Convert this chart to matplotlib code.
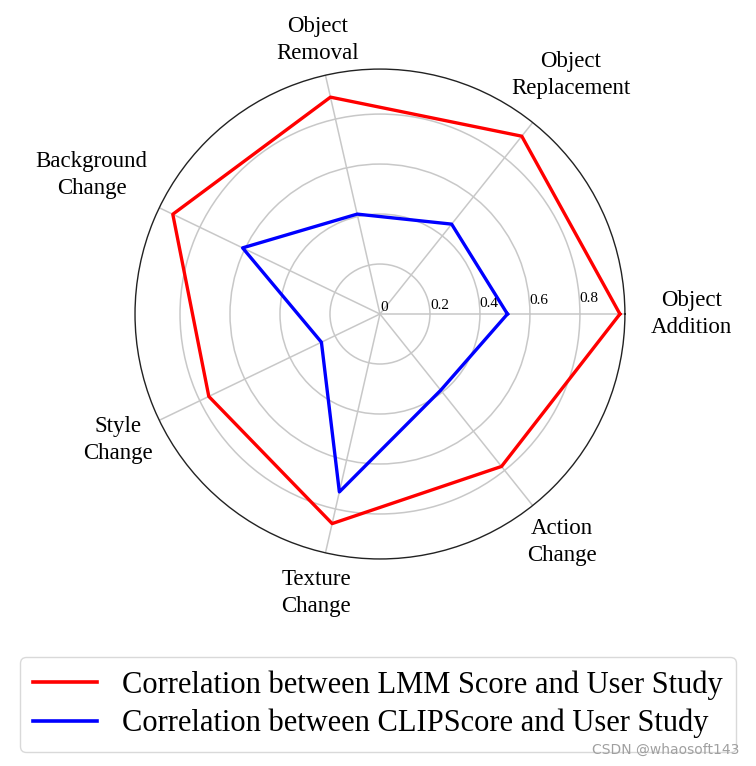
import numpy as np
import matplotlib
matplotlib.use('Agg')
import matplotlib.pyplot as plt

# ---------------- data ----------------
categories = ["Object\nAddition", "Object\nReplacement", "Object\nRemoval",
              "Background\nChange", "Style\nChange", "Texture\nChange", "Action\nChange"]
lmm_scores = [0.96, 0.91, 0.89, 0.92, 0.76, 0.86, 0.78]
clip_scores = [0.51, 0.46, 0.41, 0.61, 0.26, 0.73, 0.39]
r_ticks = [0, 0.2, 0.4, 0.6, 0.8]
r_tick_labels = ["0", "0.2", "0.4", "0.6", "0.8"]
series_names = ["Correlation between LMM Score and User Study",
                "Correlation between CLIPScore and User Study"]
watermark = "CSDN @whaosoft143"

# ---------------- layout / style ----------------
label_radius = [1.245, 1.225, 1.125, 1.28, 1.165, 1.145, 1.165]
plt.rcParams['font.family'] = ['Liberation Serif', 'DejaVu Serif']

fig = plt.figure(figsize=(7.56, 7.66), dpi=100)
ax = fig.add_axes([0.1786, 0.2702, 0.648, 0.6397], projection='polar')

n = len(categories)
angles = np.linspace(0, 2 * np.pi, n, endpoint=False)
closed = np.append(angles, angles[0])

ax.plot(closed, lmm_scores + lmm_scores[:1], color='#ff0000', lw=2.4,
        label=series_names[0], zorder=3)
ax.plot(closed, clip_scores + clip_scores[:1], color='#0000ff', lw=2.4,
        label=series_names[1], zorder=3)

ax.set_ylim(0, 0.98)
ax.set_yticks(r_ticks)
ax.set_yticklabels(r_tick_labels, fontsize=11)
ax.set_rlabel_position(2.5)
ax.set_xticks(angles)
ax.set_xticklabels([''] * n)
ax.grid(True, color='#c8c8c8', lw=1.1)
ax.spines['polar'].set_color('#222222')
ax.spines['polar'].set_linewidth(1.0)

for ang, lab, rr in zip(angles, categories, label_radius):
    ax.text(ang, rr, lab, ha='center', va='center', fontsize=16.5,
            linespacing=1.38, clip_on=False)

leg = fig.legend(loc='lower center', bbox_to_anchor=(0.5, 0.018), fontsize=22,
                 frameon=True, fancybox=True, edgecolor='#d0d0d0',
                 handlelength=2.1, handletextpad=0.8, borderpad=0.45,
                 labelspacing=0.3, borderaxespad=0.0)
leg.get_frame().set_linewidth(1.0)
for line in leg.get_lines():
    line.set_linewidth(2.6)

fig.text(0.978, 0.012, watermark, ha='right', va='bottom', fontsize=10,
         color='#a0a0a0', family='DejaVu Sans', zorder=10)

fig.savefig('out.png', dpi=100)
